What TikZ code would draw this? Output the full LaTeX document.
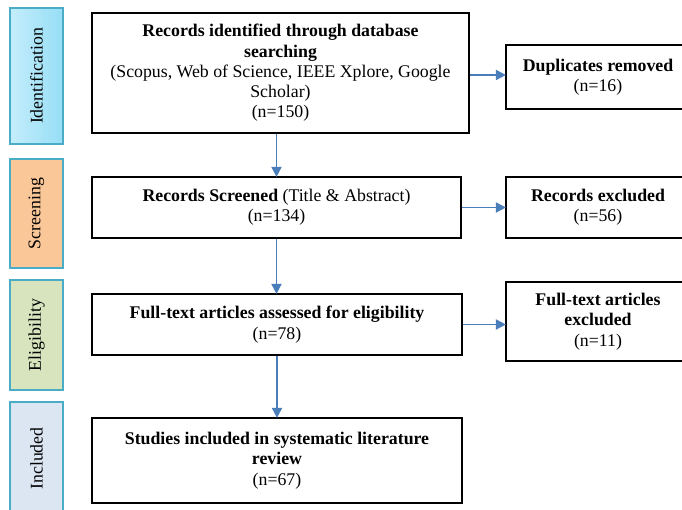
\documentclass[tikz,border=0pt]{standalone}
\usepackage{fontspec}
\setmainfont{Liberation Serif}
\usetikzlibrary{arrows.meta,shadows}

\definecolor{arrowblue}{RGB}{74,126,187}
\definecolor{stageline}{RGB}{75,172,198}
\definecolor{identtop}{RGB}{150,222,246}
\definecolor{identbot}{RGB}{196,237,251}
\definecolor{screenfill}{RGB}{250,199,153}
\definecolor{eligfill}{RGB}{215,228,189}
\definecolor{inclfill}{RGB}{220,230,242}

\tikzset{
  box/.style={draw=black, line width=2.6pt, fill=white, align=center, inner sep=2pt},
  stage/.style={draw=stageline, line width=1.3pt, rotate=90, minimum height=53pt, inner sep=0pt,
    drop shadow={shadow xshift=-1.2pt, shadow yshift=-1.2pt, opacity=0.35}},
  arr/.style={draw=arrowblue, line width=1.8pt, shorten >=-1.2pt, -{Triangle[length=10pt,width=10pt]}},
}

\begin{document}
\begin{tikzpicture}[x=1pt,y=-1pt,font=\fontsize{17.8}{20.3}\selectfont]
            \useasboundingbox (0,0) rectangle (682,510);
            \clip (0,0) rectangle (682,510);
            \fill[white] (0,0) rectangle (682,510);

            \node[stage, minimum width=136pt, left color=identbot, right color=identtop] (ident) at (36.5,76) {Identification};
            \node[stage, minimum width=109pt, fill=screenfill] (screen) at (36.5,213.5) {Screening};
            \node[stage, minimum width=110pt, fill=eligfill] (elig) at (36.5,335) {Eligibility};
            \node[stage, minimum width=113pt, fill=inclfill] (incl) at (36.5,458.5) {Included};

            \node[box, minimum width=377pt, minimum height=120pt] (found) at (280.5,73)
                {\textbf{Records identified through database}\\\textbf{searching}\\(Scopus, Web of Science, IEEE Xplore, Google\\Scholar)\\(n=150)};
            \node[box, minimum width=369pt, minimum height=61pt] (screened) at (276.5,207.5)
                {\textbf{Records Screened} (Title \& Abstract)\\(n=134)};
            \node[box, minimum width=370pt, minimum height=61pt] (assessed) at (277,324.5)
                {\textbf{Full-text articles assessed for eligibility}\\(n=78)};
            \node[box, minimum width=370pt, minimum height=85pt] (included) at (277,460.5)
                {\textbf{Studies included in systematic literature}\\\textbf{review}\\(n=67)};

            \node[box, minimum width=184pt, minimum height=64pt] (dupl) at (598,77)
                {\textbf{Duplicates removed}\\(n=16)};
            \node[box, minimum width=184pt, minimum height=61pt] (excl) at (598,207.5)
                {\textbf{Records excluded}\\(n=56)};
            \node[box, minimum width=184pt, minimum height=79pt] (ftexcl) at (598,321.5)
                {\textbf{Full-text articles}\\\textbf{excluded}\\(n=11)};

            \draw[arr] (screened.north |- found.south) -- (screened.north);
            \draw[arr] (screened.south) -- (screened.south |- assessed.north);
            \draw[arr] (assessed.south) -- (included.north);

            \draw[arr] ([yshift=-2pt]found.east) -- ([yshift=-2pt]found.east -| dupl.west);
            \draw[arr] (screened.east) -- (screened.east -| excl.west);
            \draw[arr] (assessed.east) -- (assessed.east -| ftexcl.west);
        \end{tikzpicture}
\end{document}
